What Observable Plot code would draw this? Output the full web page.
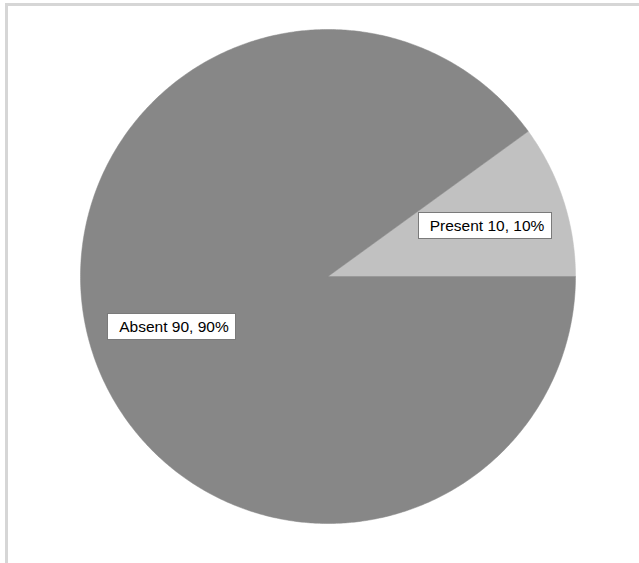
<!DOCTYPE html>
<html>
<head>
<meta charset="utf-8">
<script src="https://cdn.jsdelivr.net/npm/d3@7"></script>
<script src="https://cdn.jsdelivr.net/npm/@observablehq/plot@0.6"></script>
<style>
  html, body { margin: 0; padding: 0; background: #fff; }
  #wrap { position: relative; width: 639px; height: 563px; overflow: hidden; }
  #frame { position: absolute; left: 5px; top: 3px; right: -10px; bottom: -10px;
           border-top: 3px solid #d6d6d6; border-left: 3px solid #d6d6d6; }
  #chart { position: absolute; left: 0; top: 0; }
</style>
</head>
<body>
<div id="wrap"><div id="frame"></div><div id="chart"></div></div>
<script>
const categories = ["Present", "Absent"];
const values = [10, 90];
const sliceColors = ["#c1c1c1", "#878787"];

const total = d3.sum(values);
let acc = 0;
const slices = categories.map((c, i) => {
  const a0 = acc / total * 2 * Math.PI;
  acc += values[i];
  const a1 = acc / total * 2 * Math.PI;
  return {cat: c, value: values[i], pct: Math.round(values[i] / total * 100), a0, a1};
});

// polygon points for each slice, from the data angles
const pts = [];
for (const s of slices) {
  pts.push({cat: s.cat, x: 0, y: 0});
  const n = Math.max(2, Math.ceil((s.a1 - s.a0) / (Math.PI / 360)));
  for (let k = 0; k <= n; k++) {
    const a = s.a0 + (s.a1 - s.a0) * k / n;
    pts.push({cat: s.cat, x: Math.cos(a), y: Math.sin(a)});
  }
  pts.push({cat: s.cat, x: 0, y: 0});
}

const labelR = 0.665;
const labels = slices.map(s => {
  const m = (s.a0 + s.a1) / 2;
  return {x: labelR * Math.cos(m), y: labelR * Math.sin(m), text: `${s.cat} ${s.value}, ${s.pct}%`};
});

const plot = Plot.plot({
  width: 639,
  height: 563,
  marginLeft: 80,
  marginRight: 64,
  marginTop: 29,
  marginBottom: 40,
  style: {background: "transparent", fontFamily: "'Liberation Sans', Arial, sans-serif"},
  x: {domain: [-1, 1], axis: null},
  y: {domain: [-1, 1], axis: null},
  color: {domain: categories, range: sliceColors},
  marks: [
    Plot.line(pts, {x: "x", y: "y", z: "cat", fill: "cat", stroke: "cat", strokeWidth: 0.5, curve: "linear"}),
    Plot.text(labels, {x: "x", y: "y", text: "text", fontSize: 15.5, fill: "#000", dx: 2.5})
  ]
});
document.getElementById("chart").appendChild(plot);

// white boxes behind the labels
Array.from(plot.querySelectorAll("text")).forEach(t => {
  const b = t.getBBox();
  const cy = b.y + b.height / 2;
  const r = document.createElementNS("http://www.w3.org/2000/svg", "rect");
  const x0 = b.x - 11.5;
  const x1 = b.x + b.width + 6.5;
  r.setAttribute("x", x0);
  r.setAttribute("y", cy - 13);
  r.setAttribute("width", x1 - x0);
  r.setAttribute("height", 26);
  r.setAttribute("fill", "#fff");
  r.setAttribute("stroke", "#7a7a7a");
  r.setAttribute("stroke-width", 1);
  r.setAttribute("shape-rendering", "crispEdges");
  const tr = t.getAttribute("transform");
  if (tr) r.setAttribute("transform", tr);
  t.parentNode.insertBefore(r, t);
});
</script>
</body>
</html>
